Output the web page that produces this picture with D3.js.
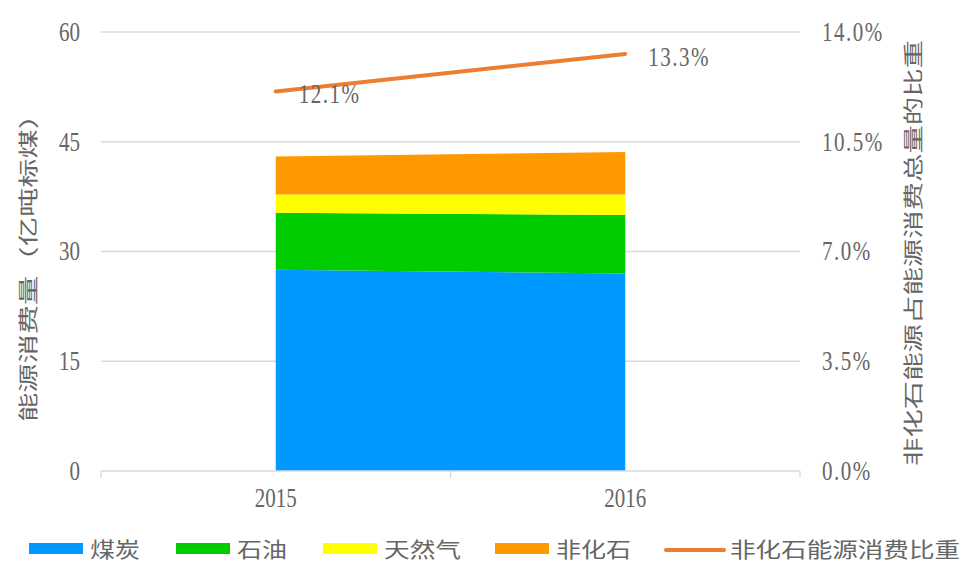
<!DOCTYPE html>
<html>
<head>
<meta charset="utf-8">
<script src="https://cdn.jsdelivr.net/npm/d3@7"></script>
<style>
  body { margin: 0; background: #fff; }
  svg { display: block; }
</style>
</head>
<body>
<div id="chart"></div>
<script>
// --- data ---
const years = ["2015", "2016"];
const seriesNames = ["煤炭", "石油", "天然气", "非化石"];
const coal = [27.5, 27.0];
const oil = [7.8, 8.0];
const gas = [2.5, 2.8];
const nonFossil = [5.2, 5.8];
const lineName = "非化石能源消费比重";
const nonFossilShare = [12.1, 13.3]; // percent
const leftTicks = [0, 15, 30, 45, 60];
const rightTicks = [0, 3.5, 7, 10.5, 14];
const leftTitle = "能源消费量（亿吨标煤）";
const rightTitle = "非化石能源占能源消费总量的比重";

const colors = ["#0099ff", "#00cc00", "#ffff00", "#ff9900"];
const lineColor = "#ed7d31";
const textColor = "#666666";
const gridColor = "#d9d9d9";

const width = 962, height = 563;
const plot = {left: 101, right: 800, top: 32, bottom: 471};

const svg = d3.select("#chart").append("svg")
  .attr("width", width)
  .attr("height", height);

// --- scales ---
const x = d3.scaleBand().domain(years).range([plot.left, plot.right]).padding(0);
const cx = d => x(d) + x.bandwidth() / 2;
const y = d3.scaleLinear().domain([0, 60]).range([plot.bottom, plot.top]);
const y2 = d3.scaleLinear().domain([0, 14]).range([plot.bottom, plot.top]);

// table for stacking
const table = years.map((yr, i) => ({
  year: yr,
  [seriesNames[0]]: coal[i],
  [seriesNames[1]]: oil[i],
  [seriesNames[2]]: gas[i],
  [seriesNames[3]]: nonFossil[i]
}));
const stacked = d3.stack().keys(seriesNames)(table);

// stretched text helper (the source picture is squeezed horizontally)
function stretchText(g, tx, ty, str, anchor, size, family) {
  return g.append("text")
    .attr("transform", `translate(${tx},${ty}) scale(1,1.25)`)
    .attr("text-anchor", anchor)
    .attr("dominant-baseline", "central")
    .attr("font-family", family)
    .attr("font-size", size)
    .attr("fill", textColor)
    .text(str);
}

// --- gridlines ---
svg.append("g").selectAll("line")
  .data(leftTicks.filter(d => d > 0))
  .join("line")
  .attr("x1", plot.left).attr("x2", plot.right)
  .attr("y1", d => y(d)).attr("y2", d => y(d))
  .attr("stroke", gridColor).attr("stroke-width", 1.3);

// --- stacked areas ---
const area = d3.area()
  .x(d => cx(d.data.year))
  .y0(d => y(d[0]))
  .y1(d => y(d[1]));

svg.append("g").selectAll("path")
  .data(stacked)
  .join("path")
  .attr("fill", (d, i) => colors[i])
  .attr("d", area);

// --- x axis ---
const xAxis = svg.append("g");
xAxis.append("line")
  .attr("x1", plot.left).attr("x2", plot.right)
  .attr("y1", plot.bottom).attr("y2", plot.bottom)
  .attr("stroke", gridColor).attr("stroke-width", 1.3);
const boundaries = years.map(d => x(d)).concat([plot.right]);
xAxis.selectAll(".tk")
  .data(boundaries)
  .join("line")
  .attr("x1", d => d).attr("x2", d => d)
  .attr("y1", plot.bottom).attr("y2", plot.bottom + 7)
  .attr("stroke", gridColor).attr("stroke-width", 1.3);
years.forEach(yr => stretchText(xAxis, cx(yr), 498, yr, "middle", 21, "Liberation Serif"));

// --- y axes labels ---
const yAxisL = svg.append("g");
leftTicks.forEach(t => stretchText(yAxisL, 80, y(t), t, "end", 21, "Liberation Serif"));
const yAxisR = svg.append("g");
rightTicks.forEach(t => stretchText(yAxisR, 822, y2(t), d3.format(".1%")(t / 100), "start", 21, "Liberation Serif")
  .attr("letter-spacing", 1.5));

// --- axis titles ---
svg.append("text")
  .attr("transform", `translate(27,261) rotate(-90)`)
  .attr("text-anchor", "middle")
  .attr("dominant-baseline", "central")
  .attr("font-family", "Noto Sans CJK SC")
  .attr("font-size", 20)
  .attr("fill", textColor)
  .attr("textLength", 322)
  .attr("lengthAdjust", "spacingAndGlyphs")
  .text(leftTitle);

svg.append("text")
  .attr("transform", `translate(912,253) rotate(-90)`)
  .attr("text-anchor", "middle")
  .attr("dominant-baseline", "central")
  .attr("font-family", "Noto Sans CJK SC")
  .attr("font-size", 20)
  .attr("fill", textColor)
  .attr("textLength", 426)
  .attr("lengthAdjust", "spacingAndGlyphs")
  .text(rightTitle);

// --- share line ---
const line = d3.line()
  .x((d, i) => cx(years[i]))
  .y(d => y2(d));

svg.append("path")
  .datum(nonFossilShare)
  .attr("fill", "none")
  .attr("stroke", lineColor)
  .attr("stroke-width", 4)
  .attr("stroke-linecap", "round")
  .attr("d", line);

const labels = svg.append("g");
nonFossilShare.forEach((v, i) => {
  stretchText(labels, cx(years[i]) + 23, y2(v) + 3, d3.format(".1%")(v / 100), "start", 21, "Liberation Serif")
    .attr("letter-spacing", 1.5);
});

// --- legend ---
const legendY = 548;
const legendX = [29, 176, 323, 495, 666];
const legendLen = [50, 50, 77, 75, 230];
const legend = svg.append("g");
function legendText(tx, str, len) {
  legend.append("text")
    .attr("x", tx).attr("y", legendY)
    .attr("dominant-baseline", "central")
    .attr("font-family", "Noto Sans CJK SC")
    .attr("font-size", 21)
    .attr("fill", textColor)
    .attr("textLength", len)
    .attr("lengthAdjust", "spacingAndGlyphs")
    .text(str);
}
seriesNames.forEach((name, i) => {
  legend.append("rect")
    .attr("x", legendX[i]).attr("y", legendY - 5)
    .attr("width", 54).attr("height", 11)
    .attr("fill", colors[i]);
  legendText(legendX[i] + 61, name, legendLen[i]);
});
legend.append("line")
  .attr("x1", legendX[4]).attr("x2", legendX[4] + 58)
  .attr("y1", legendY + 2).attr("y2", legendY + 2)
  .attr("stroke", lineColor).attr("stroke-width", 4)
  .attr("stroke-linecap", "round");
legendText(legendX[4] + 64, lineName, legendLen[4]);
</script>
</body>
</html>
